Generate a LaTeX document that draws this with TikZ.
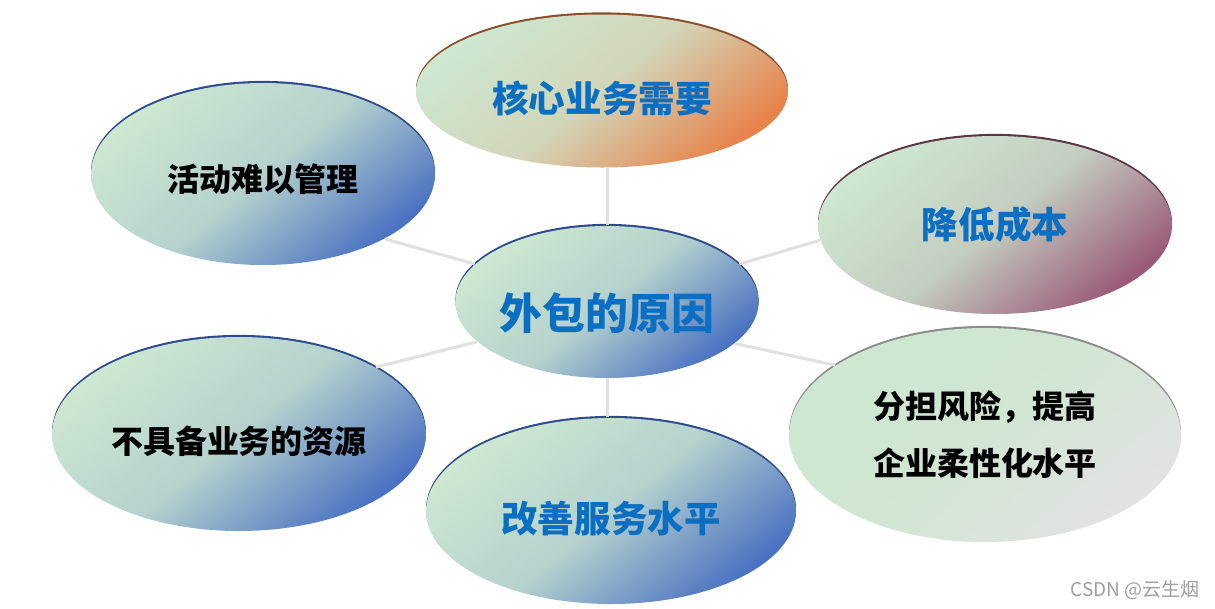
\documentclass[tikz,border=0pt]{standalone}
\usepackage{fontspec}
\newfontfamily\cjk{Noto Sans CJK SC}
\usetikzlibrary{shapes.geometric}
\definecolor{leaf}{HTML}{CDE7D0}
\definecolor{sky}{HTML}{4A72C2}
\definecolor{ember}{HTML}{E8834A}
\definecolor{plum}{HTML}{9A5A78}
\definecolor{ash}{HTML}{E2E2E2}
\definecolor{ink}{HTML}{0A6FC2}
\definecolor{navy}{HTML}{2C4A8C}
\tikzset{
  ovl/.style={ellipse,inner sep=0pt,align=center},
  tint/.style={top color=leaf,bottom color=#1,middle color=leaf!82!#1,shading angle=40},
  rim/.style={preaction={fill=#1,transform canvas={yshift=.6pt}}},
  drop/.style={text height=#1,text depth=0pt},
  big/.style={font=\cjk\bfseries\fontsize{12.2}{14}\selectfont,text=ink},
  mid/.style={font=\cjk\bfseries\fontsize{10.4}{13}\selectfont,text=ink},
  sml/.style={font=\cjk\bfseries\fontsize{9.1}{16.2}\selectfont,text=black},
  lnk/.style={draw=black!12,line width=.85pt},
  wmk/.style={font=\cjk\fontsize{5.4}{6}\selectfont,text=black!38},
}
\begin{document}
\begin{tikzpicture}
\useasboundingbox[fill=white] (0,0) rectangle (12.15,6.08);
\node[ovl,tint=sky,rim=navy,big,drop=15.5pt,minimum width=3.02cm,minimum height=1.52cm] (c) at (6.07,3.06) {外包的原因};
\node[ovl,tint=ember,rim=ember!60!black,mid,drop=12.5pt,minimum width=3.72cm,minimum height=1.53cm] (t) at (6.02,5.17) {核心业务需要};
\node[ovl,tint=sky,rim=navy,sml,drop=9.7pt,minimum width=3.44cm,minimum height=1.82cm] (tl) at (2.63,4.34) {活动难以管理};
\node[ovl,tint=plum,rim=plum!60!black,mid,minimum width=3.54cm,minimum height=1.78cm] (rt) at (9.95,3.83) {降低成本};
\node[ovl,tint=sky,rim=navy,sml,drop=10.9pt,minimum width=3.74cm,minimum height=1.94cm] (bl) at (2.39,1.74) {不具备业务的资源};
\node[ovl,tint=sky,rim=navy,mid,drop=12.5pt,minimum width=3.70cm,minimum height=1.86cm] (b) at (6.11,0.97) {改善服务水平};
\node[ovl,tint=ash,rim=black!45,sml,minimum width=3.92cm,minimum height=2.14cm] (br) at (9.85,1.73) {分担风险，提高\\企业柔性化水平};
\draw[lnk] (c.north) -- (c.north |- t.south);
\draw[lnk] (c.164) -- (tl.-28);
\draw[lnk] (c.16) -- (rt.185);
\draw[lnk] (c.197) -- (bl.26);
\draw[lnk] (c.-18) -- (br.155);
\draw[lnk] (c.south) -- (c.south |- b.north);
\node[wmk,anchor=east] (sig) at (12.12,0.18) {CSDN @云生烟};
\end{tikzpicture}
\end{document}
